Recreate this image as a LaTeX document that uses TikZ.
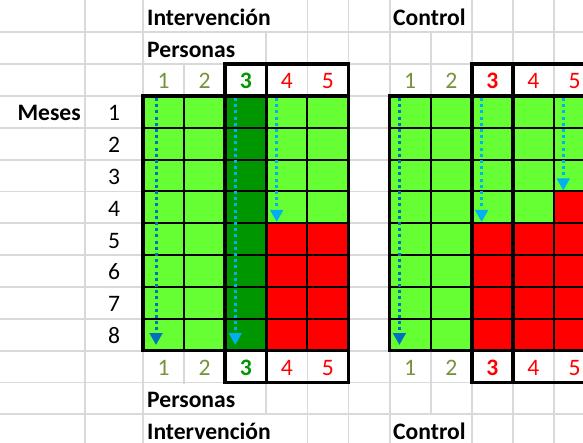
\documentclass[tikz,border=0pt]{standalone}
\usepackage{fontspec}
\setmainfont{Carlito}
\usetikzlibrary{arrows.meta}

\definecolor{gridgray}{RGB}{217,217,217}
\definecolor{lightgrn}{RGB}{102,255,51}
\definecolor{darkgrn}{RGB}{0,150,0}
\definecolor{olivegrn}{RGB}{118,146,60}
\definecolor{arrowdark}{RGB}{0,112,192}
\definecolor{arrowlight}{RGB}{0,176,240}

\newcommand{\cellfont}{\fontsize{23.6}{27}\selectfont}

\tikzset{
  gridline/.style={draw=gridgray, line width=1.8pt},
  cell/.style={draw=black, line width=2pt},
  box/.style={draw=black, line width=3.6pt},
  title/.style={inner sep=0pt, anchor=base west, font=\cellfont\bfseries},
  digit/.style={inner sep=0pt, anchor=base, font=\cellfont},
  trace/.style={line width=3pt, dash pattern=on 3pt off 3.2pt,
    -{Triangle[width=12.5pt,length=12pt]}},
}

\begin{document}
\begin{tikzpicture}[x=1pt, y=-1pt]
  \useasboundingbox (0,0) rectangle (583,443);
  \clip (0,0) rectangle (583,443);

  % sheet grid
  \foreach \i in {1,...,13}
    \draw[gridline] (0,{0.5+\i*31.83}) -- (583,{0.5+\i*31.83});
  \draw[gridline] (85,0) -- (85,443);
  \foreach \j in {0,...,10}
    \draw[gridline] ({143+\j*41.1},0) -- ({143+\j*41.1},443);
  \fill[white] (144.2,0) rectangle (306.3,31.3);
  \fill[white] (144.2,33.4) rectangle (265.2,63.1);
  \fill[white] (390.7,0) rectangle (470.7,31.3);
  \fill[white] (144.2,383.5) rectangle (265.2,413.2);
  \fill[white] (144.2,415.4) rectangle (306.3,443);
  \fill[white] (390.7,415.4) rectangle (470.7,443);

  % cells: column / green rows / colour
  \foreach \j/\g/\c in {0/8/lightgrn, 1/8/lightgrn, 2/8/darkgrn, 3/4/lightgrn,
      4/4/lightgrn, 6/8/lightgrn, 7/8/lightgrn, 8/4/lightgrn, 9/4/lightgrn,
      10/3/lightgrn}
    \foreach \m in {0,...,7}{
      \ifnum\m<\g \def\fc{\c}\else\def\fc{red}\fi
      \filldraw[cell, fill=\fc] ({143+\j*41.1},{96+\m*31.83})
        rectangle +(41.1,31.83);
    }

  \draw[box] (143,96) rectangle (348.5,350.6);
  \draw[box] (225.2,64.2) rectangle (266.3,382.5);
  \draw[box] (266.3,64.2) rectangle (348.5,382.5);
  \draw[box] (389.6,96) rectangle (595.1,350.6);
  \draw[box] (471.8,64.2) rectangle (512.9,382.5);
  \draw[box] (512.9,64.2) rectangle (595.1,382.5);

  \node[title] (intTop) at (147,25.3) {Intervención};
  \node[title] (perTop) at (147,57.2) {Personas};
  \node[title] (ctlTop) at (393,25.3) {Control};
  \node[title] (perBot) at (147,407.3) {Personas};
  \node[title] (intBot) at (147,439.1) {Intervención};
  \node[title] (ctlBot) at (393,439.1) {Control};
  \node[title, anchor=base east] (meses) at (81,120.8) {Meses};

  \foreach \m in {1,...,8}
    \node[digit] (mes\m) at (114,{89+\m*31.83}) {\m};

  \foreach \j/\t/\c in {0/1/olivegrn, 1/2/olivegrn, 2/\textbf{3}/darkgrn,
      3/4/red, 4/5/red, 6/1/olivegrn, 7/2/olivegrn, 8/\textbf{3}/red,
      9/4/red, 10/5/red}{
    \node[digit, text=\c] (top\j) at ({163.55+\j*41.1},89) {\t};
    \node[digit, text=\c] (bot\j) at ({163.55+\j*41.1},375.5) {\t};
  }

  \coordinate (i1s) at (156,98);
  \coordinate (i1e) at (156,345);
  \coordinate (i3s) at (235.3,98);
  \coordinate (i3e) at (235.3,345);
  \coordinate (i4s) at (276.7,98);
  \coordinate (i4e) at (276.7,222);
  \coordinate (c1s) at (399.4,98);
  \coordinate (c1e) at (399.4,345);
  \coordinate (c3s) at (481.6,98);
  \coordinate (c3e) at (481.6,222);
  \coordinate (c5s) at (563.3,98);
  \coordinate (c5e) at (563.3,190.5);

  \draw[trace, arrowdark] (i1s) -- (i1e);
  \draw[trace, arrowlight] (i3s) -- (i3e);
  \draw[trace, arrowlight] (i4s) -- (i4e);
  \draw[trace, arrowdark] (c1s) -- (c1e);
  \draw[trace, arrowlight] (c3s) -- (c3e);
  \draw[trace, arrowlight] (c5s) -- (c5e);
\end{tikzpicture}
\end{document}
